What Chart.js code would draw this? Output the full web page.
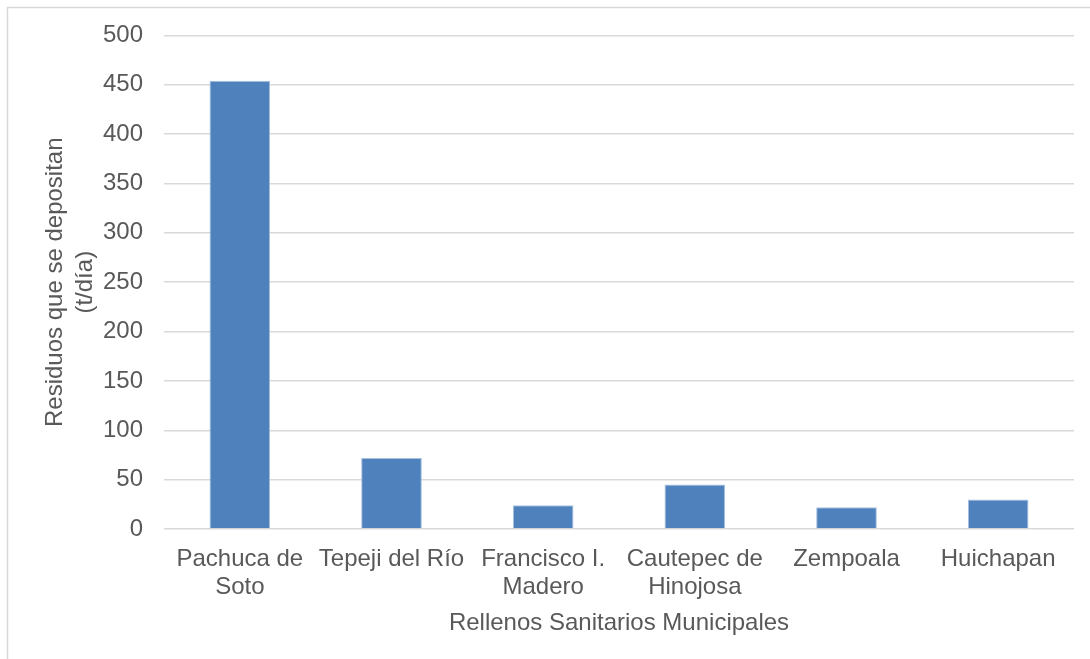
<!DOCTYPE html>
<html>
<head>
<meta charset="utf-8">
<script src="https://cdn.jsdelivr.net/npm/chart.js@4/dist/chart.umd.min.js"></script>
<style>
  html, body { margin: 0; padding: 0; background: #fff; }
  #wrap { width: 1090px; height: 659px; position: relative; }
</style>
</head>
<body>
<div id="wrap"><canvas id="chart"></canvas></div>
<script>
// Rellenos sanitarios municipales - residuos depositados (t/dia)
const categories = [
  ['Pachuca de', 'Soto'],
  'Tepeji del Río',
  ['Francisco I.', 'Madero'],
  ['Cautepec de', 'Hinojosa'],
  'Zempoala',
  'Huichapan'
];
const residuos = [454, 72, 24, 45, 22, 30];
const yTicks = [0, 50, 100, 150, 200, 250, 300, 350, 400, 450, 500];

const FONT = "'Liberation Sans', Arial, sans-serif";
const TEXT = '#595959';

// light grey frame round the chart, like the office export
const framePlugin = {
  id: 'frame',
  beforeDraw(chart) {
    const ctx = chart.ctx;
    ctx.save();
    ctx.fillStyle = '#fff';
    ctx.fillRect(0, 0, chart.width, chart.height);
    ctx.strokeStyle = '#d9d9d9';
    ctx.lineWidth = 1.5;
    ctx.strokeRect(7.5, 7.5, 2000, 2000);
    ctx.restore();
  }
};

new Chart(document.getElementById('chart').getContext('2d'), {
  type: 'bar',
  data: {
    labels: categories,
    datasets: [{
      label: 'Residuos',
      data: residuos,
      backgroundColor: '#4f81bd',
      borderColor: '#a9c1e0',
      borderWidth: 1,
      barPercentage: 0.4,
      categoryPercentage: 1
    }]
  },
  options: {
    responsive: true, maintainAspectRatio: false, animation: false,
    layout: {padding: {top: 34, right: 16, bottom: 21, left: 40}},
    scales: {
      x: {
        grid: {display: false},
        border: {display: false},
        ticks: {color: TEXT, font: {family: FONT, size: 24, lineHeight: 1.17}, padding: 8, maxRotation: 0, autoSkip: false},
        title: {display: true, text: 'Rellenos Sanitarios Municipales', color: TEXT, font: {family: FONT, size: 24}, padding: {top: 0, bottom: 0}}
      },
      y: {
        min: 0, max: 500,
        afterBuildTicks: axis => { axis.ticks = yTicks.map(v => ({value: v})); },
        afterFit: axis => { axis.width = 124; },
        grid: {color: '#d9d9d9', lineWidth: 1.5, drawTicks: false},
        border: {display: false},
        ticks: {color: TEXT, font: {family: FONT, size: 24}, padding: 21},
        title: {display: true, text: ['Residuos que se depositan', '(t/día)'], color: TEXT, font: {family: FONT, size: 24, lineHeight: 1.25}, padding: {top: 0, bottom: 3}}
      }
    },
    plugins: {
      legend: {display: false},
      tooltip: {enabled: false}
    }
  },
  plugins: [framePlugin]
});
</script>
</body>
</html>
